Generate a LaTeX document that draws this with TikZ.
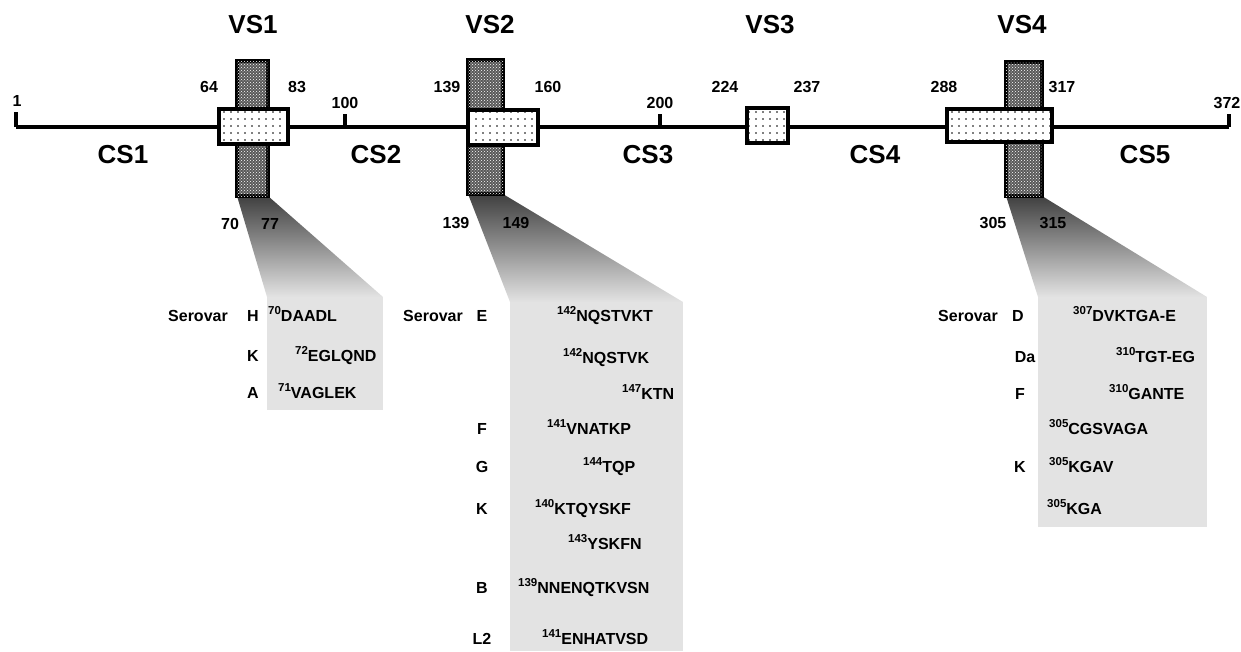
\documentclass[tikz,border=0pt]{standalone}
\usepackage{fontspec}
\setmainfont{Liberation Sans}
\usetikzlibrary{patterns,patterns.meta}

\tikzdeclarepattern{name=sparsedots, type=uncolored,
  bounding box={(-3.5pt,-3.5pt) and (3.5pt,3.5pt)},
  tile size={(7pt,7pt)},
  code={\fill (0pt,0pt) circle (0.8pt);}}

\newcommand{\resno}[1]{\raisebox{0.8ex}{\fontsize{11.5}{11.5}\selectfont #1}}

\begin{document}
\begin{tikzpicture}[x=1pt, y=-1pt,
  big/.style={font=\fontsize{26}{30}\selectfont\bfseries, inner sep=0pt},
  num/.style={font=\fontsize{16}{19}\selectfont\bfseries, inner sep=0pt},
  seq/.style={num, anchor=base west},
  tag/.style={num, anchor=base},
  backbone/.style={line width=3.2pt},
  varbar/.style={draw, line width=3.2pt, fill=black!65, postaction={pattern=crosshatch dots, pattern color=white}},
  regbox/.style={draw, line width=3.2pt, fill=white, postaction={pattern=sparsedots, pattern color=black}},
  halftone/.style={fill=gray!22},
  fan/.style={top color=black!75, bottom color=gray!22}]
\useasboundingbox (0,0) rectangle (1241,651);

% sequence panels
\shade[fan] (237,196) -- (268,196) -- (383,297) -- (267,297) -- cycle;
\fill[halftone] (267,297) rectangle (383,410);
\shade[fan] (468,194) -- (503,194) -- (683,302) -- (510,302) -- cycle;
\fill[halftone] (510,302) rectangle (683,651);
\shade[fan] (1006,196) -- (1042,196) -- (1207,297) -- (1038,297) -- cycle;
\fill[halftone] (1038,297) rectangle (1207,527);

% protein backbone
\coordinate (start) at (16,127);
\coordinate (stop) at (1229,127);
\coordinate (t100) at (345,127);
\coordinate (t200) at (660,127);
\draw[backbone] (start) -- (stop);
\draw[backbone] (start) -- ++(0,-15);
\draw[backbone] (stop) -- ++(0,-13);
\draw[backbone] (t100) -- ++(0,-13);
\draw[backbone] (t200) -- ++(0,-13);

% variable segments
\draw[varbar] (237,61) rectangle (268,196);
\draw[varbar] (468,60) rectangle (503,194);
\draw[varbar] (1006,62) rectangle (1042,196);
\draw[regbox] (219,109) rectangle (288,144);
\draw[regbox] (468,110) rectangle (538,145);
\draw[regbox] (747,108) rectangle (788,143);
\draw[regbox] (947,109) rectangle (1052,142);

% segment names
\node (vs1) [big] at (253,25) {VS1};
\node (vs2) [big] at (490,25) {VS2};
\node (vs3) [big] at (770,25) {VS3};
\node (vs4) [big] at (1022,25) {VS4};
\node (cs1) [big] at (123,155) {CS1};
\node (cs2) [big] at (376,155) {CS2};
\node (cs3) [big] at (648,155) {CS3};
\node (cs4) [big] at (875,155) {CS4};
\node (cs5) [big] at (1145,155) {CS5};

% residue numbers
\node (n1) [num] at (17,101) {1};
\node (n64) [num] at (209,87) {64};
\node (n83) [num] at (297,87) {83};
\node (n100) [num] at (345,103) {100};
\node (n139) [num] at (447,87) {139};
\node (n160) [num] at (548,87) {160};
\node (n200) [num] at (660,103) {200};
\node (n224) [num] at (725,87) {224};
\node (n237) [num] at (807,87) {237};
\node (n288) [num] at (944,87) {288};
\node (n317) [num] at (1062,87) {317};
\node (n372) [num] at (1227,103) {372};
\node (b70) [num] at (230,224) {70};
\node (b77) [num] at (270,224) {77};
\node (b139) [num] at (456,223) {139};
\node (b149) [num] at (516,223) {149};
\node (b305) [num] at (993,223) {305};
\node (b315) [num] at (1053,223) {315};

% VS1 epitopes
\node (sero1) [tag] at (198,321) {Serovar};
\node (h1) [tag] at (253,321) {H};
\node (k1) [tag] at (253,361) {K};
\node (a1) [tag] at (253,398) {A};
\node (ep11) [seq] at (268,321) {\resno{70}DAADL};
\node (ep12) [seq] at (295,361) {\resno{72}EGLQND};
\node (ep13) [seq] at (278,398) {\resno{71}VAGLEK};

% VS2 epitopes
\node (sero2) [tag] at (433,321) {Serovar};
\node (e2) [tag] at (482,321) {E};
\node (f2) [tag] at (482,434) {F};
\node (g2) [tag] at (482,472) {G};
\node (k2) [tag] at (482,514) {K};
\node (b2) [tag] at (482,593) {B};
\node (l2) [tag] at (482,644) {L2};
\node (ep21) [seq] at (557,321) {\resno{142}NQSTVKT};
\node (ep22) [seq] at (563,363) {\resno{142}NQSTVK};
\node (ep23) [seq] at (622,399) {\resno{147}KTN};
\node (ep24) [seq] at (547,434) {\resno{141}VNATKP};
\node (ep25) [seq] at (583,472) {\resno{144}TQP};
\node (ep26) [seq] at (535,514) {\resno{140}KTQYSKF};
\node (ep27) [seq] at (568,549) {\resno{143}YSKFN};
\node (ep28) [seq] at (518,593) {\resno{139}NNENQTKVSN};
\node (ep29) [seq] at (542,644) {\resno{141}ENHATVSD};

% VS4 epitopes
\node (sero4) [tag] at (968,321) {Serovar};
\node (d4) [tag] at (1018,321) {D};
\node (da4) [tag] at (1025,362) {Da};
\node (f4) [tag] at (1020,399) {F};
\node (k4) [tag] at (1020,472) {K};
\node (ep41) [seq] at (1073,321) {\resno{307}DVKTGA-E};
\node (ep42) [seq] at (1116,362) {\resno{310}TGT-EG};
\node (ep43) [seq] at (1109,399) {\resno{310}GANTE};
\node (ep44) [seq] at (1049,434) {\resno{305}CGSVAGA};
\node (ep45) [seq] at (1049,472) {\resno{305}KGAV};
\node (ep46) [seq] at (1047,514) {\resno{305}KGA};
\end{tikzpicture}
\end{document}
